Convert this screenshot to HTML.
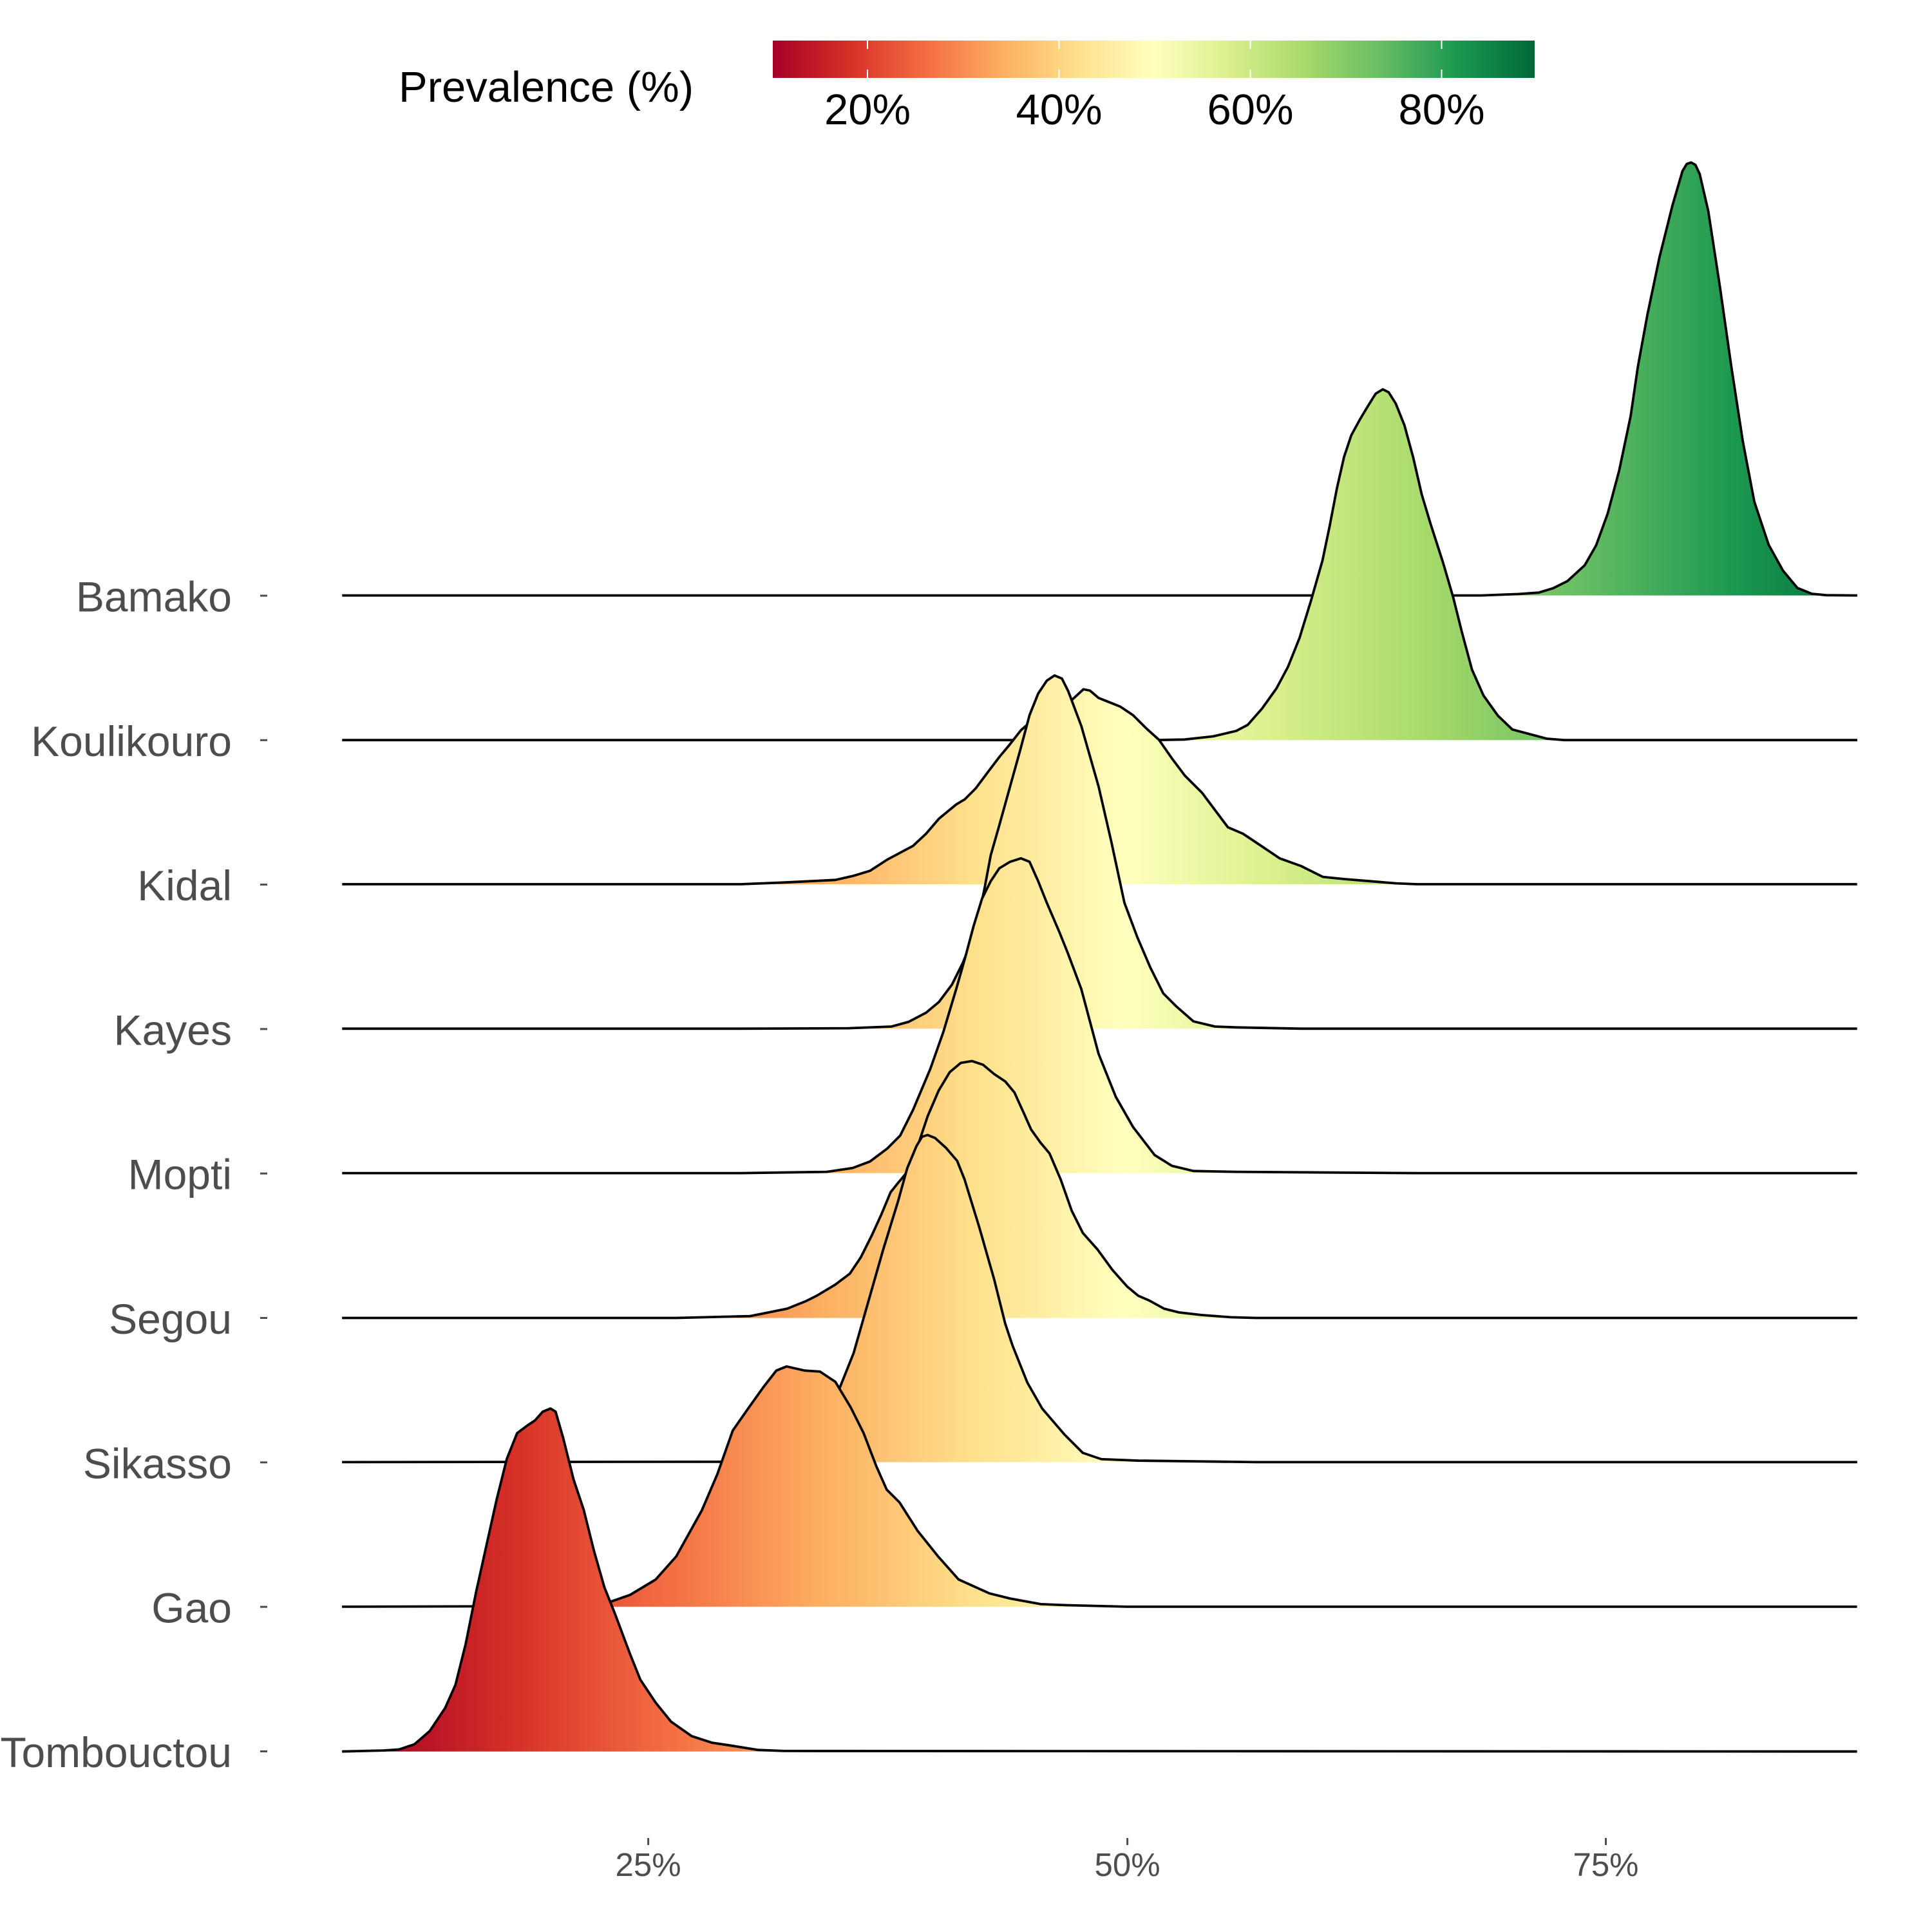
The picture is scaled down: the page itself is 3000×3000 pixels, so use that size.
<!DOCTYPE html>
<html>
<head>
<meta charset="utf-8">
<style>
html,body{margin:0;padding:0;background:#fff;}
svg{display:block;}
</style>
</head>
<body>
<svg xmlns="http://www.w3.org/2000/svg" width="3000" height="3000" viewBox="0 0 3000 3000">
<defs>
  <linearGradient id="gbar" gradientUnits="userSpaceOnUse" x1="1200" y1="0" x2="2383" y2="0">
    <stop offset="0" stop-color="#a50026"/>
    <stop offset="0.1" stop-color="#d73027"/>
    <stop offset="0.2" stop-color="#f46d43"/>
    <stop offset="0.3" stop-color="#fdae61"/>
    <stop offset="0.4" stop-color="#fee08b"/>
    <stop offset="0.5" stop-color="#ffffbf"/>
    <stop offset="0.6" stop-color="#d9ef8b"/>
    <stop offset="0.7" stop-color="#a6d96a"/>
    <stop offset="0.8" stop-color="#66bd63"/>
    <stop offset="0.9" stop-color="#1a9850"/>
    <stop offset="1" stop-color="#006837"/>
  </linearGradient>
  <linearGradient id="g" gradientUnits="userSpaceOnUse" x1="562" y1="0" x2="2932" y2="0">
    <stop offset="0" stop-color="#a50026"/>
    <stop offset="0.1" stop-color="#d73027"/>
    <stop offset="0.2" stop-color="#f46d43"/>
    <stop offset="0.3" stop-color="#fdae61"/>
    <stop offset="0.4" stop-color="#fee08b"/>
    <stop offset="0.5" stop-color="#ffffbf"/>
    <stop offset="0.6" stop-color="#d9ef8b"/>
    <stop offset="0.7" stop-color="#a6d96a"/>
    <stop offset="0.8" stop-color="#66bd63"/>
    <stop offset="0.9" stop-color="#1a9850"/>
    <stop offset="1" stop-color="#006837"/>
  </linearGradient>

  <!-- Bamako (Z5) -->
  <clipPath id="c1"><path transform="translate(2300 230) scale(0.446429)" d="M-3962,1556 L0,1556 L130,1551 L200,1546 L250,1531 L300,1506 L360,1451 L400,1381 L440,1271 L480,1121 L520,931 L545,760 L578,580 L620,380 L665,200 L700,80 L715,55 L730,50 L745,58 L760,90 L790,220 L830,480 L870,760 L910,1020 L950,1230 L1000,1380 L1050,1470 L1100,1530 L1150,1550 L1200,1555 L1308,1556 L1308,1556 L-3962,1556 Z"/></clipPath>
  <!-- Koulikouro (Z6) -->
  <clipPath id="c2"><path transform="translate(1750 580) scale(0.446429)" d="M-2730,1275 L100,1275 L200,1273 L300,1262 L380,1243 L420,1222 L470,1165 L520,1095 L560,1020 L600,920 L640,790 L680,650 L705,530 L730,400 L755,290 L780,215 L810,160 L840,110 L865,70 L890,55 L910,65 L935,105 L965,180 L995,290 L1025,420 L1055,520 L1100,660 L1135,780 L1165,900 L1200,1030 L1240,1120 L1290,1190 L1340,1238 L1400,1254 L1460,1270 L1520,1275 L2540,1275 L-2730,1275 Z"/></clipPath>
  <!-- Kidal (Z7) -->
  <clipPath id="c3"><path transform="translate(1150 1000) scale(0.669643)" d="M-924,557 L0,557 L100,553 L220,547 L260,538 L300,526 L340,500 L400,468 L430,440 L460,405 L500,372 L520,360 L545,335 L575,295 L600,262 L625,232 L650,200 L690,165 L730,145 L770,128 L795,105 L810,108 L830,125 L850,133 L880,145 L910,165 L940,195 L970,222 L1000,265 L1030,305 L1070,345 L1100,385 L1130,425 L1165,440 L1210,470 L1250,497 L1300,515 L1350,540 L1400,545 L1460,550 L1520,555 L1568,557 L2589,557 L-924,557 Z"/></clipPath>
  <!-- Kayes (Z7) -->
  <clipPath id="c4"><path transform="translate(1150 1000) scale(0.669643)" d="M-924,892 L0,892 L250,891 L350,887 L390,876 L430,855 L460,830 L490,790 L515,740 L535,690 L550,640 L565,570 L580,490 L600,420 L625,330 L650,240 L670,165 L690,115 L710,85 L728,73 L745,80 L760,110 L790,190 L830,330 L860,460 L890,600 L920,680 L950,750 L980,810 L1010,840 L1050,875 L1100,887 L1150,889 L1300,892 L2589,892 L-924,892 Z"/></clipPath>
  <!-- Mopti (Z7) -->
  <clipPath id="c5"><path transform="translate(1150 1000) scale(0.669643)" d="M-924,1227 L0,1227 L200,1224 L260,1215 L300,1200 L340,1170 L370,1140 L400,1080 L440,985 L470,900 L500,800 L520,730 L540,655 L560,590 L580,550 L600,520 L625,505 L650,497 L670,505 L690,550 L710,600 L740,670 L760,720 L790,800 L830,950 L870,1050 L910,1120 L960,1185 L1000,1210 L1050,1222 L1150,1224 L1568,1227 L2589,1227 L-924,1227 Z"/></clipPath>
  <!-- Segou (Z8) -->
  <clipPath id="c6"><path transform="translate(1050 1550) scale(0.573980)" d="M-904,865 L0,865 L200,860 L300,840 L350,820 L380,805 L430,775 L470,745 L500,700 L530,640 L555,585 L580,525 L600,500 L625,470 L650,410 L680,320 L710,250 L740,200 L770,175 L800,170 L830,180 L860,205 L890,225 L915,255 L940,310 L960,355 L985,390 L1010,420 L1040,490 L1070,575 L1100,635 L1140,680 L1180,735 L1220,780 L1250,805 L1280,818 L1320,840 L1360,850 L1420,857 L1500,863 L1568,865 L3195,865 L-904,865 Z"/></clipPath>
  <!-- Sikasso (Z8) -->
  <clipPath id="c7"><path transform="translate(1050 1550) scale(0.573980)" d="M-904,1255 L200,1254 L300,1245 L380,1180 L440,1060 L480,960 L520,820 L560,680 L600,550 L625,460 L650,400 L665,375 L680,370 L700,378 L730,405 L760,440 L780,490 L820,620 L860,760 L890,880 L910,940 L950,1040 L990,1110 L1050,1180 L1100,1230 L1150,1247 L1250,1251 L1568,1255 L3195,1255 L-904,1255 Z"/></clipPath>
  <!-- Gao (Z9) -->
  <clipPath id="c8"><path transform="translate(500 1500) scale(0.797194)" d="M39,1248 L400,1247 L500,1244 L560,1239 L600,1225 L650,1195 L690,1150 L740,1060 L770,990 L800,905 L830,862 L860,820 L885,788 L905,780 L940,788 L970,790 L1000,810 L1030,860 L1055,910 L1080,975 L1100,1020 L1125,1045 L1160,1100 L1200,1150 L1240,1195 L1300,1222 L1340,1232 L1400,1243 L1450,1245 L1568,1248 L2990,1248 L39,1248 Z"/></clipPath>
  <!-- Tombouctou (Z9) -->
  <clipPath id="c9"><path transform="translate(500 1500) scale(0.797194)" d="M39,1530 L120,1528 L150,1526 L180,1516 L210,1490 L240,1445 L260,1400 L280,1320 L300,1220 L320,1130 L340,1040 L360,960 L380,910 L400,895 L415,885 L430,868 L445,862 L455,868 L470,920 L490,1000 L510,1060 L530,1140 L550,1210 L570,1260 L600,1340 L620,1390 L650,1435 L680,1472 L720,1500 L760,1513 L800,1519 L850,1527 L900,1529 L2990,1530 L39,1530 Z"/></clipPath>
</defs>

<rect x="0" y="0" width="3000" height="3000" fill="#fff"/>

<!-- Legend -->
<text x="619" y="158" font-family="Liberation Sans, Arial, sans-serif" font-size="67" fill="#000">Prevalence (%)</text>
<rect x="1200" y="63" width="1183" height="58" fill="url(#gbar)"/>
<g stroke="#fff" stroke-width="2">
  <line x1="1347" y1="63" x2="1347" y2="76"/><line x1="1347" y1="108" x2="1347" y2="121"/>
  <line x1="1644.5" y1="63" x2="1644.5" y2="76"/><line x1="1644.5" y1="108" x2="1644.5" y2="121"/>
  <line x1="1941.5" y1="63" x2="1941.5" y2="76"/><line x1="1941.5" y1="108" x2="1941.5" y2="121"/>
  <line x1="2238.5" y1="63" x2="2238.5" y2="76"/><line x1="2238.5" y1="108" x2="2238.5" y2="121"/>
</g>
<g font-family="Liberation Sans, Arial, sans-serif" font-size="67" fill="#000" text-anchor="middle">
  <text x="1347" y="193">20%</text>
  <text x="1644.5" y="193">40%</text>
  <text x="1941.5" y="193">60%</text>
  <text x="2238.5" y="193">80%</text>
</g>

<!-- Y labels -->
<g font-family="Liberation Sans, Arial, sans-serif" font-size="66" fill="#4d4d4d" text-anchor="end">
  <text x="360" y="949.5">Bamako</text>
  <text x="360" y="1173.8">Koulikouro</text>
  <text x="360" y="1398.1">Kidal</text>
  <text x="360" y="1622.4">Kayes</text>
  <text x="360" y="1846.7">Mopti</text>
  <text x="360" y="2071">Segou</text>
  <text x="360" y="2295.3">Sikasso</text>
  <text x="360" y="2519.6">Gao</text>
  <text x="360" y="2744">Tombouctou</text>
</g>
<g stroke="#4d4d4d" stroke-width="3">
  <line x1="404" y1="925" x2="415" y2="925"/>
  <line x1="404" y1="1149.3" x2="415" y2="1149.3"/>
  <line x1="404" y1="1373.6" x2="415" y2="1373.6"/>
  <line x1="404" y1="1597.9" x2="415" y2="1597.9"/>
  <line x1="404" y1="1822.2" x2="415" y2="1822.2"/>
  <line x1="404" y1="2046.5" x2="415" y2="2046.5"/>
  <line x1="404" y1="2270.8" x2="415" y2="2270.8"/>
  <line x1="404" y1="2495.1" x2="415" y2="2495.1"/>
  <line x1="404" y1="2719.5" x2="415" y2="2719.5"/>
</g>

<!-- X axis -->
<g stroke="#4d4d4d" stroke-width="3">
  <line x1="1006.6" y1="2854" x2="1006.6" y2="2865"/>
  <line x1="1750.6" y1="2854" x2="1750.6" y2="2865"/>
  <line x1="2493.5" y1="2854" x2="2493.5" y2="2865"/>
</g>
<g font-family="Liberation Sans, Arial, sans-serif" font-size="51" fill="#4d4d4d" text-anchor="middle">
  <text x="1006.6" y="2913">25%</text>
  <text x="1750.6" y="2913">50%</text>
  <text x="2493.5" y="2913">75%</text>
</g>

<!-- Ridges -->
<g fill="none" stroke="#000" stroke-width="3.8" stroke-linejoin="round">
  <rect x="500" y="0" width="2500" height="3000" fill="url(#g)" stroke="none" clip-path="url(#c1)"/>
  <path vector-effect="non-scaling-stroke" transform="translate(2300 230) scale(0.446429)" d="M-3962,1556 L0,1556 L130,1551 L200,1546 L250,1531 L300,1506 L360,1451 L400,1381 L440,1271 L480,1121 L520,931 L545,760 L578,580 L620,380 L665,200 L700,80 L715,55 L730,50 L745,58 L760,90 L790,220 L830,480 L870,760 L910,1020 L950,1230 L1000,1380 L1050,1470 L1100,1530 L1150,1550 L1200,1555 L1308,1556"/>

  <rect x="500" y="0" width="2500" height="3000" fill="url(#g)" stroke="none" clip-path="url(#c2)"/>
  <path vector-effect="non-scaling-stroke" transform="translate(1750 580) scale(0.446429)" d="M-2730,1275 L100,1275 L200,1273 L300,1262 L380,1243 L420,1222 L470,1165 L520,1095 L560,1020 L600,920 L640,790 L680,650 L705,530 L730,400 L755,290 L780,215 L810,160 L840,110 L865,70 L890,55 L910,65 L935,105 L965,180 L995,290 L1025,420 L1055,520 L1100,660 L1135,780 L1165,900 L1200,1030 L1240,1120 L1290,1190 L1340,1238 L1400,1254 L1460,1270 L1520,1275 L2540,1275"/>

  <rect x="500" y="0" width="2500" height="3000" fill="url(#g)" stroke="none" clip-path="url(#c3)"/>
  <path vector-effect="non-scaling-stroke" transform="translate(1150 1000) scale(0.669643)" d="M-924,557 L0,557 L100,553 L220,547 L260,538 L300,526 L340,500 L400,468 L430,440 L460,405 L500,372 L520,360 L545,335 L575,295 L600,262 L625,232 L650,200 L690,165 L730,145 L770,128 L795,105 L810,108 L830,125 L850,133 L880,145 L910,165 L940,195 L970,222 L1000,265 L1030,305 L1070,345 L1100,385 L1130,425 L1165,440 L1210,470 L1250,497 L1300,515 L1350,540 L1400,545 L1460,550 L1520,555 L1568,557 L2589,557"/>

  <rect x="500" y="0" width="2500" height="3000" fill="url(#g)" stroke="none" clip-path="url(#c4)"/>
  <path vector-effect="non-scaling-stroke" transform="translate(1150 1000) scale(0.669643)" d="M-924,892 L0,892 L250,891 L350,887 L390,876 L430,855 L460,830 L490,790 L515,740 L535,690 L550,640 L565,570 L580,490 L600,420 L625,330 L650,240 L670,165 L690,115 L710,85 L728,73 L745,80 L760,110 L790,190 L830,330 L860,460 L890,600 L920,680 L950,750 L980,810 L1010,840 L1050,875 L1100,887 L1150,889 L1300,892 L2589,892"/>

  <rect x="500" y="0" width="2500" height="3000" fill="url(#g)" stroke="none" clip-path="url(#c5)"/>
  <path vector-effect="non-scaling-stroke" transform="translate(1150 1000) scale(0.669643)" d="M-924,1227 L0,1227 L200,1224 L260,1215 L300,1200 L340,1170 L370,1140 L400,1080 L440,985 L470,900 L500,800 L520,730 L540,655 L560,590 L580,550 L600,520 L625,505 L650,497 L670,505 L690,550 L710,600 L740,670 L760,720 L790,800 L830,950 L870,1050 L910,1120 L960,1185 L1000,1210 L1050,1222 L1150,1224 L1568,1227 L2589,1227"/>

  <rect x="500" y="0" width="2500" height="3000" fill="url(#g)" stroke="none" clip-path="url(#c6)"/>
  <path vector-effect="non-scaling-stroke" transform="translate(1050 1550) scale(0.573980)" d="M-904,865 L0,865 L200,860 L300,840 L350,820 L380,805 L430,775 L470,745 L500,700 L530,640 L555,585 L580,525 L600,500 L625,470 L650,410 L680,320 L710,250 L740,200 L770,175 L800,170 L830,180 L860,205 L890,225 L915,255 L940,310 L960,355 L985,390 L1010,420 L1040,490 L1070,575 L1100,635 L1140,680 L1180,735 L1220,780 L1250,805 L1280,818 L1320,840 L1360,850 L1420,857 L1500,863 L1568,865 L3195,865"/>

  <rect x="500" y="0" width="2500" height="3000" fill="url(#g)" stroke="none" clip-path="url(#c7)"/>
  <path vector-effect="non-scaling-stroke" transform="translate(1050 1550) scale(0.573980)" d="M-904,1255 L200,1254 L300,1245 L380,1180 L440,1060 L480,960 L520,820 L560,680 L600,550 L625,460 L650,400 L665,375 L680,370 L700,378 L730,405 L760,440 L780,490 L820,620 L860,760 L890,880 L910,940 L950,1040 L990,1110 L1050,1180 L1100,1230 L1150,1247 L1250,1251 L1568,1255 L3195,1255"/>

  <rect x="500" y="0" width="2500" height="3000" fill="url(#g)" stroke="none" clip-path="url(#c8)"/>
  <path vector-effect="non-scaling-stroke" transform="translate(500 1500) scale(0.797194)" d="M39,1248 L400,1247 L500,1244 L560,1239 L600,1225 L650,1195 L690,1150 L740,1060 L770,990 L800,905 L830,862 L860,820 L885,788 L905,780 L940,788 L970,790 L1000,810 L1030,860 L1055,910 L1080,975 L1100,1020 L1125,1045 L1160,1100 L1200,1150 L1240,1195 L1300,1222 L1340,1232 L1400,1243 L1450,1245 L1568,1248 L2990,1248"/>

  <rect x="500" y="0" width="2500" height="3000" fill="url(#g)" stroke="none" clip-path="url(#c9)"/>
  <path vector-effect="non-scaling-stroke" transform="translate(500 1500) scale(0.797194)" d="M39,1530 L120,1528 L150,1526 L180,1516 L210,1490 L240,1445 L260,1400 L280,1320 L300,1220 L320,1130 L340,1040 L360,960 L380,910 L400,895 L415,885 L430,868 L445,862 L455,868 L470,920 L490,1000 L510,1060 L530,1140 L550,1210 L570,1260 L600,1340 L620,1390 L650,1435 L680,1472 L720,1500 L760,1513 L800,1519 L850,1527 L900,1529 L2990,1530"/>
</g>
</svg>
</body>
</html>
